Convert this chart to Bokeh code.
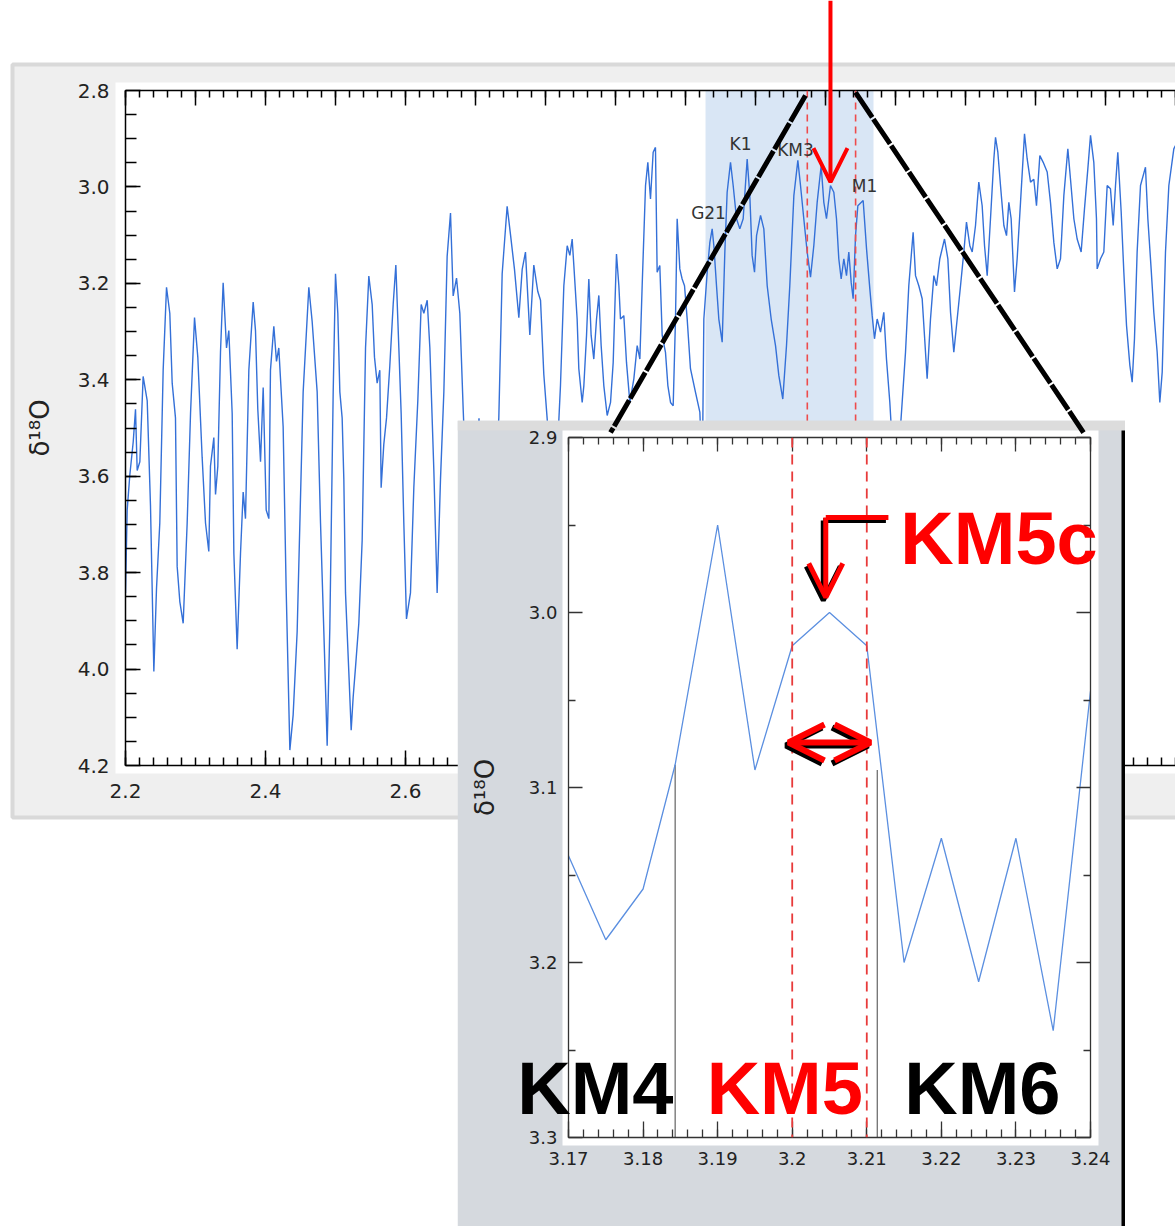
from bokeh.plotting import figure
from bokeh.layouts import column
from bokeh.models import (Range1d, LinearAxis, FixedTicker, Span, BoxAnnotation,
                          Label, Arrow, OpenHead, ColumnDataSource)
from bokeh.embed import file_html
from bokeh.resources import INLINE

# ---------------- data ----------------
age_ma = [2.2000, 2.2024, 2.2062, 2.2110, 2.2143, 2.2167, 2.2205, 2.2252, 2.2310, 2.2357,
          2.2405, 2.2443, 2.2490, 2.2538, 2.2586, 2.2633, 2.2667, 2.2714, 2.2738, 2.2776,
          2.2824, 2.2881, 2.2929, 2.2986, 2.3033, 2.3095, 2.3143, 2.3190, 2.3214, 2.3262,
          2.3286, 2.3319, 2.3357, 2.3395, 2.3443, 2.3476, 2.3524, 2.3548, 2.3595, 2.3643,
          2.3681, 2.3714, 2.3762, 2.3824, 2.3857, 2.3890, 2.3929, 2.3967, 2.4010, 2.4048,
          2.4071, 2.4119, 2.4157, 2.4190, 2.4252, 2.4295, 2.4348, 2.4395, 2.4452, 2.4538,
          2.4619, 2.4667, 2.4738, 2.4786, 2.4843, 2.4881, 2.4919, 2.4967, 2.5000, 2.5033,
          2.5062, 2.5095, 2.5119, 2.5143, 2.5190, 2.5224, 2.5252, 2.5286, 2.5333, 2.5381,
          2.5429, 2.5476, 2.5524, 2.5557, 2.5595, 2.5633, 2.5652, 2.5690, 2.5729, 2.5776,
          2.5824, 2.5862, 2.5905, 2.5938, 2.5976, 2.6014, 2.6071, 2.6119, 2.6176, 2.6224,
          2.6262, 2.6310, 2.6348, 2.6405, 2.6452, 2.6500, 2.6548, 2.6595, 2.6643, 2.6681,
          2.6729, 2.6776, 2.6824, 2.6910, 2.7050, 2.7180, 2.7333, 2.7381, 2.7452, 2.7500,
          2.7557, 2.7619, 2.7667, 2.7714, 2.7776, 2.7833, 2.7890, 2.7929, 2.7976, 2.8024,
          2.8120, 2.8214, 2.8262, 2.8310, 2.8348, 2.8381, 2.8405, 2.8452, 2.8476, 2.8524,
          2.8548, 2.8586, 2.8619, 2.8652, 2.8690, 2.8729, 2.8762, 2.8795, 2.8833, 2.8881,
          2.8929, 2.8967, 2.9014, 2.9048, 2.9071, 2.9119, 2.9157, 2.9205, 2.9262, 2.9310,
          2.9348, 2.9381, 2.9429, 2.9462, 2.9500, 2.9538, 2.9571, 2.9595, 2.9633, 2.9667,
          2.9714, 2.9748, 2.9786, 2.9824, 2.9857, 2.9881, 2.9919, 2.9952, 2.9986, 3.0024,
          3.0071, 3.0143, 3.0205, 3.0240, 3.0262, 3.0310, 3.0348, 3.0381, 3.0405, 3.0443,
          3.0476, 3.0524, 3.0562, 3.0595, 3.0643, 3.0681, 3.0729, 3.0776, 3.0824, 3.0881,
          3.0919, 3.0952, 3.0986, 3.1015, 3.1072, 3.1119, 3.1167, 3.1224, 3.1286, 3.1333,
          3.1390, 3.1443, 3.1490, 3.1548, 3.1605, 3.1643, 3.1690, 3.1738, 3.1786, 3.1833,
          3.1881, 3.1938, 3.1976, 3.2014, 3.2071, 3.2119, 3.2157, 3.2190, 3.2224, 3.2262,
          3.2300, 3.2333, 3.2367, 3.2395, 3.2429, 3.2462, 3.2538, 3.2586, 3.2633, 3.2667,
          3.2700, 3.2738, 3.2786, 3.2833, 3.2871, 3.2919, 3.3000, 3.3095, 3.3143, 3.3190,
          3.3252, 3.3286, 3.3333, 3.3381, 3.3414, 3.3452, 3.3500, 3.3548, 3.3586, 3.3633,
          3.3700, 3.3748, 3.3786, 3.3833, 3.3881, 3.3929, 3.3976, 3.4014, 3.4062, 3.4096,
          3.4143, 3.4190, 3.4238, 3.4272, 3.4310, 3.4357, 3.4405, 3.4429, 3.4462, 3.4500,
          3.4548, 3.4586, 3.4619, 3.4652, 3.4700, 3.4738, 3.4786, 3.4843, 3.4881, 3.4929,
          3.4976, 3.5014, 3.5062, 3.5110, 3.5167, 3.5214, 3.5262, 3.5310, 3.5357, 3.5405,
          3.5462, 3.5500, 3.5548, 3.5595, 3.5652, 3.5700, 3.5748, 3.5786, 3.5833, 3.5871,
          3.5881, 3.5929, 3.5976, 3.6024, 3.6071, 3.6110, 3.6143, 3.6176, 3.6224, 3.6262,
          3.6300, 3.6348, 3.6381, 3.6414, 3.6452, 3.6500, 3.6571, 3.6605, 3.6652, 3.6690,
          3.6738, 3.6776, 3.6810, 3.6857, 3.6905, 3.6976, 3.7050]
d18o = [3.842, 3.670, 3.597, 3.529, 3.461, 3.588, 3.570, 3.393, 3.443, 3.661,
        4.005, 3.833, 3.697, 3.380, 3.208, 3.262, 3.407, 3.479, 3.787, 3.860,
        3.905, 3.697, 3.470, 3.271, 3.353, 3.561, 3.697, 3.756, 3.579, 3.520,
        3.638, 3.579, 3.343, 3.199, 3.334, 3.298, 3.470, 3.760, 3.959, 3.760,
        3.633, 3.688, 3.380, 3.239, 3.298, 3.461, 3.570, 3.416, 3.670, 3.688,
        3.380, 3.289, 3.362, 3.334, 3.497, 3.833, 4.168, 4.095, 3.923, 3.425,
        3.208, 3.280, 3.425, 3.697, 3.968, 4.159, 3.914, 3.425, 3.180, 3.262,
        3.425, 3.479, 3.606, 3.842, 4.005, 4.127, 4.059, 3.996, 3.905, 3.733,
        3.334, 3.185, 3.244, 3.353, 3.407, 3.380, 3.624, 3.534, 3.479, 3.371,
        3.244, 3.162, 3.334, 3.470, 3.697, 3.896, 3.842, 3.624, 3.443, 3.244,
        3.262, 3.235, 3.334, 3.588, 3.842, 3.606, 3.425, 3.144, 3.054, 3.226,
        3.189, 3.262, 3.461, 3.780, 3.480, 3.860, 3.479, 3.180, 3.040, 3.099,
        3.171, 3.271, 3.171, 3.135, 3.307, 3.162, 3.217, 3.235, 3.389, 3.481,
        3.700, 3.412, 3.205, 3.122, 3.142, 3.108, 3.163, 3.274, 3.377, 3.447,
        3.412, 3.308, 3.191, 3.308, 3.357, 3.274, 3.225, 3.329, 3.412, 3.474,
        3.447, 3.364, 3.139, 3.205, 3.274, 3.267, 3.364, 3.447, 3.398, 3.329,
        3.357, 3.205, 2.997, 2.949, 3.025, 2.928, 2.918, 3.177, 3.163, 3.308,
        3.343, 3.412, 3.447, 3.454, 3.274, 3.066, 3.170, 3.191, 3.205, 3.274,
        3.377, 3.426, 3.467, 3.600, 3.274, 3.177, 3.115, 3.087, 3.122, 3.205,
        3.274, 3.322, 3.135, 3.011, 2.949, 2.997, 3.066, 3.087, 3.066, 2.942,
        3.018, 3.142, 3.177, 3.101, 3.059, 3.087, 3.205, 3.274, 3.329, 3.391,
        3.440, 3.329, 3.205, 3.018, 2.945, 2.997, 3.066, 3.135, 3.187, 3.122,
        3.032, 2.956, 3.032, 3.066, 2.997, 3.011, 3.066, 3.149, 3.191, 3.149,
        3.184, 3.135, 3.198, 3.232, 3.101, 3.039, 3.028, 3.128, 3.211, 3.267,
        3.315, 3.274, 3.301, 3.260, 3.357, 3.447, 3.650, 3.447, 3.343, 3.205,
        3.094, 3.184, 3.205, 3.232, 3.308, 3.398, 3.274, 3.184, 3.205, 3.149,
        3.108, 3.149, 3.260, 3.343, 3.274, 3.205, 3.135, 3.073, 3.122, 3.135,
        3.080, 2.990, 3.039, 3.122, 3.184, 3.066, 2.942, 2.897, 2.928, 2.997,
        3.080, 3.101, 3.032, 3.066, 3.218, 3.149, 3.032, 2.890, 2.942, 2.990,
        2.984, 3.039, 2.935, 2.949, 2.969, 3.032, 3.115, 3.170, 3.149, 3.018,
        2.921, 2.984, 3.066, 3.108, 3.135, 3.045, 2.962, 2.893, 2.949, 3.066,
        3.170, 3.149, 3.135, 2.997, 3.004, 3.080, 2.997, 2.928, 3.052, 3.177,
        3.287, 3.370, 3.405, 3.315, 3.135, 2.997, 2.959, 3.066, 3.170, 3.260,
        3.343, 3.447, 3.384, 3.135, 2.997, 2.921, 2.900]

main_x_ticks = [2.2, 2.4, 2.6, 2.8, 3.0, 3.2, 3.4, 3.6]
main_x_labels = ["2.2", "2.4", "2.6", "2.8", "3.0", "3.2", "3.4", "3.6"]
main_x_tenths = [2.2, 2.3, 2.4, 2.5, 2.6, 2.7, 2.8, 2.9, 3.0, 3.1, 3.2, 3.3, 3.4, 3.5, 3.6, 3.7]
main_y_ticks = [2.8, 3.0, 3.2, 3.4, 3.6, 3.8, 4.0, 4.2]
main_y_labels = ["2.8", "3.0", "3.2", "3.4", "3.6", "3.8", "4.0", "4.2"]

highlight_band = [3.0286, 3.2686]          # shaded interval in the overview
overview_red_lines = [3.174, 3.243]
event_names = ["K1", "KM3", "G21", "M1", "KM2"]
event_x = [3.0786, 3.1571, 3.0329, 3.2557, 3.1357]
event_y = [2.910, 2.9224, 3.0551, 2.9991, 3.499]

inset_age = [3.170, 3.175, 3.180, 3.1843, 3.190, 3.195, 3.200, 3.205, 3.210, 3.215,
             3.220, 3.225, 3.230, 3.235, 3.240]
inset_d18o = [3.139, 3.187, 3.158, 3.087, 2.950, 3.090, 3.019, 3.000, 3.019, 3.200,
              3.129, 3.211, 3.129, 3.239, 3.045]
inset_x_ticks = [3.17, 3.18, 3.19, 3.20, 3.21, 3.22, 3.23, 3.24]
inset_x_labels = ["3.17", "3.18", "3.19", "3.2", "3.21", "3.22", "3.23", "3.24"]
inset_y_ticks = [2.9, 3.0, 3.1, 3.2, 3.3]
inset_y_labels = ["2.9", "3.0", "3.1", "3.2", "3.3"]
km5_limits = [3.20, 3.21]
stage_bounds = [3.1843, 3.2114]
stage_bound_tops = [3.087, 3.090]
stage_names = ["KM4", "KM5", "KM6"]
stage_x = [3.1736, 3.1990, 3.2255]
stage_colors = ["black", "#ff0000", "black"]
km5c_peak = (3.205, 3.000)

FONT = "DejaVu Sans"

# ---------------- geometry ----------------
PAGE_W, PAGE_H = 1175, 1226
M_W, M_H = 1175, 815
M_L, M_R, M_T, M_B = 125, 0, 90, 50
M_X = (2.2, 3.7)
M_Y = (4.2, 2.8)
I_X0, I_Y0 = 457, 420
I_W, I_H = 668, 806
I_L, I_R, I_T, I_B = 111, 35, 17, 89
I_XR = (3.17, 3.24)
I_YR = (3.3, 2.9)


def style_axis(ax, ticks, labels, minor, tick_in, minor_in, size, standoff,
               show=True, color="black", width=1.5):
    ax.ticker = FixedTicker(ticks=ticks, minor_ticks=minor)
    ax.major_tick_in = tick_in
    ax.major_tick_out = 0
    ax.minor_tick_in = minor_in
    ax.minor_tick_out = 0
    for prop in ("axis_line_color", "major_tick_line_color", "minor_tick_line_color"):
        setattr(ax, prop, color)
    for prop in ("axis_line_width", "major_tick_line_width", "minor_tick_line_width"):
        setattr(ax, prop, width)
    ax.major_label_text_font = FONT
    if show:
        ax.major_label_overrides = {t: l for t, l in zip(ticks, labels)}
        ax.major_label_text_color = "#222222"
        ax.major_label_text_font_size = size
        ax.major_label_standoff = standoff
    else:
        ax.major_label_text_color = None
        ax.major_label_text_alpha = 0
        ax.major_label_text_font_size = "1px"
        ax.major_label_standoff = 0


def plain(w, h, xr, yr, **kw):
    f = figure(width=w, height=h, x_range=xr, y_range=yr, toolbar_location=None,
               output_backend="svg", frame_align=False, **kw)
    f.grid.visible = False
    f.outline_line_color = None
    f.background_fill_color = None
    f.border_fill_color = None
    return f


# ---------------- background layer (page panels) ----------------
bg = plain(PAGE_W, PAGE_H, Range1d(0, PAGE_W), Range1d(PAGE_H, 0), min_border=0,
           x_axis_location=None, y_axis_location=None)
bg.background_fill_color = "white"
bg.border_fill_color = "white"
bg.quad(left=12, right=1185, top=64, bottom=817, fill_color="#efefef",
        line_color="#d9d9d9", line_width=4)
bg.quad(left=115, right=1185, top=82, bottom=773, fill_color="white", line_color=None)

# ---------------- overview chart ----------------
main = plain(M_W, M_H, Range1d(*M_X), Range1d(*M_Y), min_border_left=M_L,
             min_border_right=M_R, min_border_top=M_T, min_border_bottom=M_B)

x_minor = [round(2.2 + 0.02 * i, 2) for i in range(76)]
y_minor = [round(2.85 + 0.05 * i, 2) for i in range(27)]
style_axis(main.xaxis[0], main_x_ticks, main_x_labels, x_minor, 15, 8, "20px", 18)
style_axis(main.yaxis[0], main_y_ticks, main_y_labels, y_minor, 15, 11, "20px", 16)
top_ax = LinearAxis()
main.add_layout(top_ax, "above")
style_axis(top_ax, main_x_tenths, None, x_minor, 15, 7, "1px", 0, show=False)
main.yaxis[0].axis_label = "δ¹⁸O"
main.yaxis[0].axis_label_text_font = FONT
main.yaxis[0].axis_label_text_font_style = "normal"
main.yaxis[0].axis_label_text_font_size = "26px"
main.yaxis[0].axis_label_text_color = "#222222"
main.yaxis[0].axis_label_standoff = 20

main.add_layout(BoxAnnotation(left=highlight_band[0], right=highlight_band[1],
                              fill_color="#cfe0f3", fill_alpha=0.8, line_color=None,
                              level="underlay"))
for xv in overview_red_lines:
    main.add_layout(Span(location=xv, dimension="height", line_color="#ee4b4b",
                         line_dash="7 5", line_width=1.6))

src = ColumnDataSource(dict(age=age_ma, d18o=d18o))
main.line("age", "d18o", source=src, line_color="#3470d8", line_width=1.4)

for name, xv, yv in zip(event_names, event_x, event_y):
    main.add_layout(Label(x=xv, y=yv, text=name, text_align="center", text_baseline="middle",
                          text_font=FONT, text_font_size="17px", text_color="#333333"))

# ---------------- inset background ----------------
ibg = plain(I_W, I_H, Range1d(0, I_W), Range1d(I_H, 0), min_border=0,
            x_axis_location=None, y_axis_location=None)
ibg.quad(left=0, right=I_W, top=0, bottom=I_H, fill_color="#d5d9de", line_color=None)
ibg.quad(left=0, right=I_W, top=0, bottom=10, fill_color="#dcdcdc", line_color=None)
ibg.quad(left=105, right=641, top=10, bottom=725, fill_color="white", line_color=None)
ibg.quad(left=664, right=668, top=10, bottom=I_H, fill_color="black", line_color=None)

# ---------------- inset chart ----------------
ins = plain(I_W, I_H, Range1d(*I_XR), Range1d(*I_YR), min_border_left=I_L,
            min_border_right=I_R, min_border_top=I_T, min_border_bottom=I_B)

ix_minor = [round(3.17 + 0.002 * i, 3) for i in range(36)]
iy_minor = [2.95, 3.05, 3.15, 3.25]
style_axis(ins.xaxis[0], inset_x_ticks, inset_x_labels, ix_minor, 16, 8, "18px", 14,
           color="#333333", width=1.3)
style_axis(ins.yaxis[0], inset_y_ticks, inset_y_labels, iy_minor, 14, 7, "18px", 11,
           color="#333333", width=1.3)
for loc in ("above", "right"):
    ax = LinearAxis()
    ins.add_layout(ax, loc)
    tk = inset_x_ticks if loc == "above" else inset_y_ticks
    mn = ix_minor if loc == "above" else iy_minor
    style_axis(ax, tk, None, mn, 14, 7, "1px", 0, show=False, color="#333333", width=1.3)
ins.yaxis[0].axis_label = "δ¹⁸O"
ins.yaxis[0].axis_label_text_font = FONT
ins.yaxis[0].axis_label_text_font_style = "normal"
ins.yaxis[0].axis_label_text_font_size = "26px"
ins.yaxis[0].axis_label_text_color = "#222222"
ins.yaxis[0].axis_label_standoff = 26

for xv in km5_limits:
    ins.add_layout(Span(location=xv, dimension="height", line_color="#e83a3a",
                        line_dash="10 7", line_width=1.8))
ins.segment(x0=stage_bounds, y0=stage_bound_tops, x1=stage_bounds, y1=[3.3, 3.3],
            line_color="#444444", line_width=1)
ins.line(inset_age, inset_d18o, line_color="#5b8fe0", line_width=1.3)

# ---------------- overlay (annotations spanning panels) ----------------
mppx = (M_W - M_L - M_R) / (M_X[1] - M_X[0])
mppy = (M_H - M_T - M_B) / (M_Y[0] - M_Y[1])
over = plain(PAGE_W, PAGE_H,
             Range1d(M_X[0] - M_L / mppx, M_X[1] + (PAGE_W - M_W + M_R) / mppx),
             Range1d(M_Y[0] + (PAGE_H - M_H + M_B) / mppy, M_Y[1] - M_T / mppy),
             min_border=0, x_axis_location=None, y_axis_location=None)
ippx = (I_W - I_L - I_R) / (I_XR[1] - I_XR[0])
ippy = (I_H - I_T - I_B) / (I_YR[0] - I_YR[1])
fx0 = I_X0 + I_L
fy0 = I_Y0 + I_T
over.extra_x_ranges = {"ins": Range1d(I_XR[0] - fx0 / ippx, I_XR[0] + (PAGE_W - fx0) / ippx)}
over.extra_y_ranges = {"ins": Range1d(I_YR[1] + (PAGE_H - fy0) / ippy, I_YR[1] - fy0 / ippy)}

# guide lines from the overview to the zoom panel
over.line([3.1714, 2.8929], [2.8104, 3.5094], line_color="black", line_width=5, line_dash="30 2")
over.line([3.2429, 3.5686], [2.8041, 3.5094], line_color="black", line_width=5, line_dash="30 2")
# red arrow from the top of the page to KM5c in the overview
over.add_layout(Arrow(end=OpenHead(size=34, line_color="red", line_width=4),
                      x_start=3.2071, y_start=M_Y[1] - M_T / mppy, x_end=3.2071, y_end=2.990,
                      line_color="red", line_width=4))

for name, xv, col in zip(stage_names, stage_x, stage_colors):
    over.add_layout(Label(x=xv, y=3.272, text=name, text_align="center",
                          text_baseline="alphabetic", text_font="Liberation Sans",
                          text_font_style="bold", text_font_size="74px", text_color=col,
                          x_range_name="ins", y_range_name="ins"))
over.add_layout(Label(x=3.2145, y=2.9577, text="KM5c", text_align="left",
                      text_baseline="alphabetic", text_font="Liberation Sans",
                      text_font_style="bold", text_font_size="74px", text_color="#ff0000",
                      x_range_name="ins", y_range_name="ins"))

# KM5c pointer and KM5 double arrow (black shadow + red)
dx, dy = -2.5 / ippx, 3.0 / ippy
for ox, oy, col in ((dx, dy, "black"), (0, 0, "red")):
    over.line([3.2129 + ox, 3.2045 + ox], [2.9457 + oy, 2.9457 + oy], line_color=col,
              line_width=5, x_range_name="ins", y_range_name="ins")
    over.add_layout(Arrow(end=OpenHead(size=34, line_color=col, line_width=5),
                          x_start=3.2045 + ox, y_start=2.9457 + oy,
                          x_end=km5c_peak[0] - 0.0005 + ox, y_end=2.9914 + oy,
                          line_color=col, line_width=5, x_range_name="ins", y_range_name="ins"))
    over.add_layout(Arrow(start=OpenHead(size=36, line_color=col, line_width=6),
                          end=OpenHead(size=36, line_color=col, line_width=6),
                          x_start=km5_limits[0] - 0.0005 + ox, y_start=3.0743 + oy,
                          x_end=km5_limits[1] + 0.0005 + ox, y_end=3.0743 + oy,
                          line_color=col, line_width=6, x_range_name="ins", y_range_name="ins"))

# ---------------- stacking ----------------
main.margin = (-PAGE_H, 0, 0, 0)
ibg.margin = (I_Y0 - M_H, 0, 0, I_X0)
ins.margin = (-I_H, 0, 0, I_X0)
over.margin = (-PAGE_H, 0, 0, 0)
layout = column(bg, main, ibg, ins, over, spacing=0)

open("out.html", "w").write(file_html(layout, INLINE))
